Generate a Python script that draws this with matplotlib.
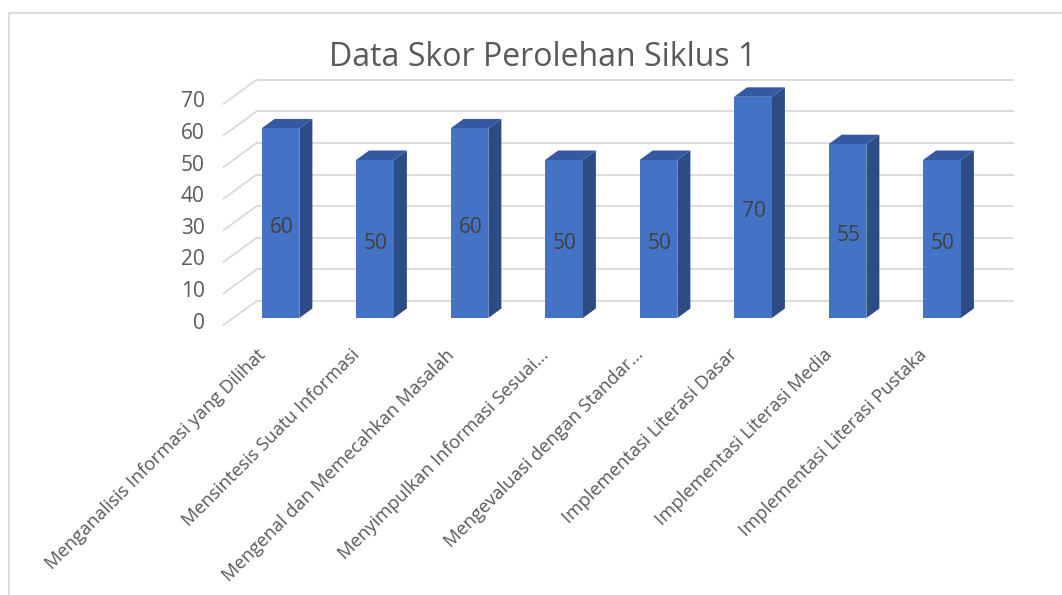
import matplotlib
matplotlib.use("Agg")
import matplotlib.pyplot as plt
from matplotlib.patches import Rectangle

plt.rcParams['font.family'] = ['Open Sans', 'DejaVu Sans']

# data
categories = [
    "Menganalisis Informasi yang Dilihat",
    "Mensintesis Suatu Informasi",
    "Mengenal dan Memecahkan Masalah",
    "Menyimpulkan Informasi Sesuai…",
    "Mengevaluasi dengan Standar…",
    "Implementasi Literasi Dasar",
    "Implementasi Literasi Media",
    "Implementasi Literasi Pustaka",
]
scores = [60, 50, 60, 50, 50, 70, 55, 50]
y_ticks = [0, 10, 20, 30, 40, 50, 60, 70]
title = "Data Skor Perolehan Siklus 1"

# look
front_col = '#4472C4'
side_col = '#2C4C86'
top_col = '#3459A2'
grid_col = '#D9D9D9'
text_col = '#595959'
bar_w = 0.4
ddx, ddy = 0.1376, 3.0      # one bar depth, in data units
d_back, d_front = 1.79, -0.74

fig = plt.figure(figsize=(10.62, 5.95), dpi=100)
ax = fig.add_axes([0, 0, 1, 1])
ax.set_xlim(-2.968, 8.270)
ax.set_ylim(-87.66, 100.63)
ax.axis('off')

# chart border
fig.patches.append(Rectangle((8.5 / 1062, -0.1), 1.2, 1.1 - 13 / 595,
                             transform=fig.transFigure, fill=False,
                             edgecolor=grid_col, linewidth=1.3))

x_left, x_right = -0.5, len(categories) - 0.5

# back wall + side wall gridlines
for v in y_ticks:
    ax.plot([x_left + d_back * ddx, x_right + d_back * ddx],
            [v + d_back * ddy, v + d_back * ddy], color=grid_col, lw=1.3, zorder=1)
    ax.plot([x_left + d_front * ddx, x_left + d_back * ddx],
            [v + d_front * ddy, v + d_back * ddy], color=grid_col, lw=1.3, zorder=1)
    ax.text(x_left + d_front * ddx - 0.2, v + d_front * ddy + 0.6, str(v),
            ha='right', va='center', fontsize=15, color=text_col)

# bars
xs = list(range(len(categories)))
for i, v in zip(xs, scores):
    x0, x1 = i - bar_w / 2, i + bar_w / 2
    ax.fill([x1, x1 + ddx, x1 + ddx, x1], [0, ddy, v + ddy, v],
            color=side_col, lw=0, zorder=2)
    ax.fill([x0, x1, x1 + ddx, x0 + ddx], [v, v, v + ddy, v + ddy],
            color=top_col, lw=0, zorder=2)
ax.bar(xs, scores, width=bar_w, color=front_col, zorder=3)

# value labels, sitting a touch below the middle of the front face
for i, v in zip(xs, scores):
    ax.text(i + 0.01, v / 2 - 1.3, str(v), ha='center', va='center', fontsize=15,
            color='#404040', zorder=4)

for i, lab in zip(xs, categories):
    ax.text(i - 0.19, -10.8, lab, rotation=45, rotation_mode='anchor',
            ha='right', va='center', fontsize=13.2, color=text_col)

fig.text(543 / 1062, 1 - 58 / 595, title, ha='center', va='center',
         fontsize=23, color=text_col)

fig.savefig('out.png', dpi=100)
